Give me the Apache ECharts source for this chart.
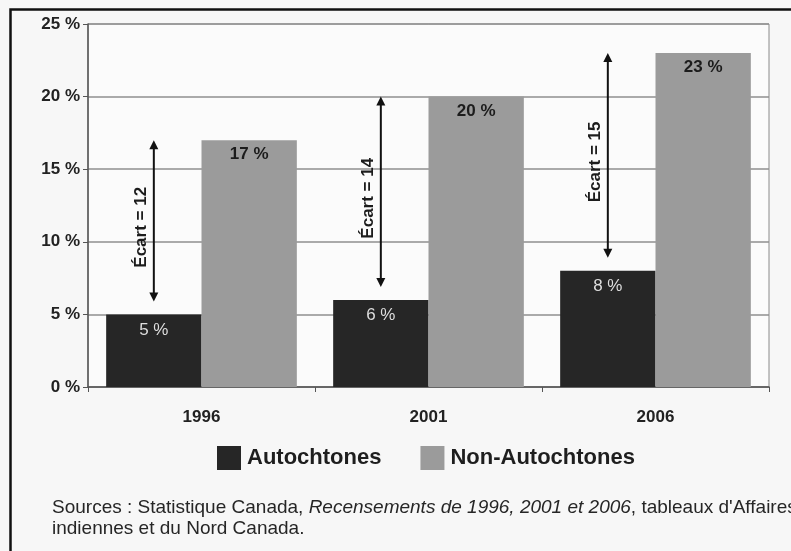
<!DOCTYPE html>
<html><head><meta charset="utf-8">
<script src="https://cdn.jsdelivr.net/npm/echarts@6/dist/echarts.min.js"></script>
<style>html,body{margin:0;padding:0;background:#f7f7f7}#c{width:791px;height:551px}</style>
</head><body><div id="c"></div>
<script>
const categories = ['1996', '2001', '2006'];
const autochtones = [5, 6, 8];
const nonAutochtones = [17, 20, 23];
const ecart = [12, 14, 15];
const seriesNames = ['Autochtones', 'Non-Autochtones'];
const yMin = 0, yMax = 25, yStep = 5;
const sourceLine1a = 'Sources : Statistique Canada, ';
const sourceLine1b = 'Recensements de 1996, 2001 et 2006';
const sourceLine1c = ", tableaux d'Affaires";
const sourceLine2 = 'indiennes et du Nord Canada.';

const FONT = 'Liberation Sans, Arial, sans-serif';
const CAT_GAP = 0.16;
const chart = echarts.init(document.getElementById('c'), null, {renderer: 'canvas'});

const arrowData = categories.map((c, i) => [i, autochtones[i], nonAutochtones[i], ecart[i]]);

chart.setOption({
  backgroundColor: '#f7f7f7',
  animation: false,
  grid: {left: 88, right: 22, top: 24, bottom: 164, show: true, backgroundColor: '#fbfbfb', borderColor: '#8a8a8a', borderWidth: 1},
  legend: {
    left: 217, top: 446, padding: 0, itemWidth: 24, itemHeight: 24, itemGap: 39,
    icon: 'rect',
    data: seriesNames,
    textStyle: {fontFamily: FONT, fontWeight: 'bold', fontSize: 22, color: '#1e1e1e', padding: [0, 0, 0, 1]}
  },
  xAxis: {
    type: 'category', data: categories,
    axisLine: {lineStyle: {color: '#555', width: 1.5}},
    axisTick: {show: true, length: 5, lineStyle: {color: '#555'}},
    axisLabel: {margin: 22, fontFamily: FONT, fontWeight: 'bold', fontSize: 17, color: '#222'}
  },
  yAxis: {
    type: 'value', min: yMin, max: yMax, interval: yStep,
    axisLine: {show: true, lineStyle: {color: '#555', width: 1.5}},
    axisTick: {show: true, length: 5, lineStyle: {color: '#555'}},
    axisLabel: {margin: 8, formatter: '{value} %', fontFamily: FONT, fontWeight: 'bold', fontSize: 17, color: '#222'},
    splitLine: {lineStyle: {color: '#8f8f8f', width: 1.5}}
  },
  series: [
    {
      name: seriesNames[0], type: 'bar', data: autochtones,
      barGap: '0%', barCategoryGap: (CAT_GAP * 100) + '%',
      itemStyle: {color: '#262626'},
      label: {show: true, position: 'insideTop', distance: 7, formatter: '{c} %',
        fontFamily: FONT, fontSize: 17, color: '#dedede'}
    },
    {
      name: seriesNames[1], type: 'bar', data: nonAutochtones,
      itemStyle: {color: '#9b9b9b'},
      label: {show: true, position: 'insideTop', distance: 6, formatter: '{c} %',
        fontFamily: FONT, fontSize: 17, fontWeight: 'bold', color: '#1c1c1c'}
    },
    {
      type: 'custom', name: 'ecart', data: arrowData, z: 10,
      encode: {x: 0, y: [1, 2]},
      renderItem: function (params, api) {
        const i = api.value(0), lo = api.value(1), hi = api.value(2);
        const pLo = api.coord([i, lo]);
        const pHi = api.coord([i, hi]);
        const band = api.size([1, 0])[0];
        const bw = band * (1 - CAT_GAP) / 2;
        const x = pLo[0] - bw / 2;
        const yTop = pHi[1];
        const yBot = pLo[1] - 13;
        const ah = 9, aw = 4.5;
        return {
          type: 'group',
          children: [
            {type: 'line', shape: {x1: x, y1: yTop + ah - 1, x2: x, y2: yBot - ah + 1}, style: {stroke: '#111', lineWidth: 2}},
            {type: 'polygon', shape: {points: [[x, yTop], [x - aw, yTop + ah], [x + aw, yTop + ah]]}, style: {fill: '#111'}},
            {type: 'polygon', shape: {points: [[x, yBot], [x - aw, yBot - ah], [x + aw, yBot - ah]]}, style: {fill: '#111'}},
            {type: 'text', x: x - 13, y: (pLo[1] + pHi[1]) / 2, rotation: Math.PI / 2,
              style: {text: '\u00c9cart = ' + api.value(3), font: 'bold 17px ' + FONT, fill: '#1c1c1c', align: 'center', verticalAlign: 'middle'}}
          ]
        };
      }
    }
  ],
  graphic: [
    {type: 'rect', left: 8, top: 7, z: 100, silent: true,
      shape: {width: 820, height: 580}, style: {fill: 'none', stroke: '#111', lineWidth: 2.5}},
    {type: 'text', left: 52, top: 498, z: 100,
      style: {
        text: '{n|' + sourceLine1a + '}{i|' + sourceLine1b + '}{n|' + sourceLine1c + '}\n{n|' + sourceLine2 + '}',
        rich: {
          n: {fontFamily: FONT, fontSize: 19, fill: '#262626', lineHeight: 21},
          i: {fontFamily: FONT, fontSize: 19, fontStyle: 'italic', fill: '#262626', lineHeight: 21}
        }
      }}
  ]
});
</script></body></html>
